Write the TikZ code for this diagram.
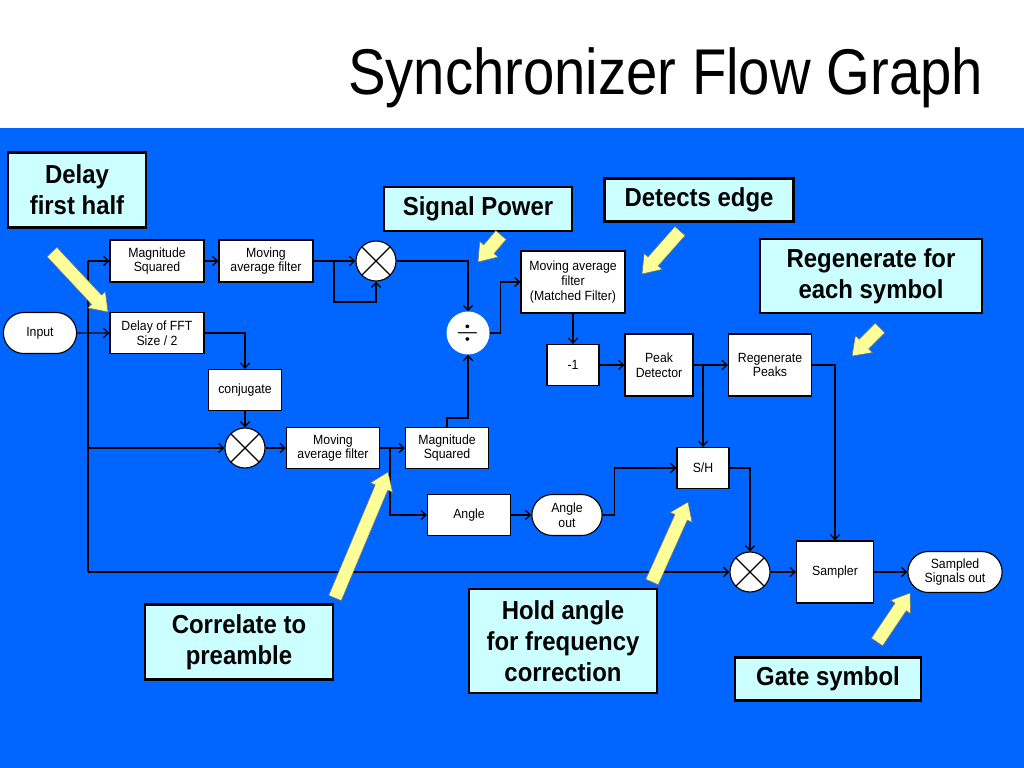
\documentclass[tikz,border=0pt]{standalone}
\usepackage{fontspec}
\setmainfont[FakeStretch=0.92]{Liberation Sans}
\newfontfamily\titlefont[FakeStretch=0.87]{Liberation Sans}
\usetikzlibrary{shapes.misc,arrows.meta,calc}
\definecolor{slideblue}{HTML}{0066FF}
\definecolor{notefill}{HTML}{CCFFFF}
\definecolor{hintfill}{HTML}{FFFF99}
\tikzset{
  block/.style={rectangle, draw, fill=white, line width=0.8pt, inner sep=1pt, align=center,
    font=\fontsize{9.5}{10.6}\selectfont},
  term/.style={rounded rectangle, draw, fill=white, line width=0.8pt, inner sep=1pt, align=center,
    font=\fontsize{9.5}{10.6}\selectfont, minimum height=1.025cm},
  mult/.style={circle, draw, fill=white, line width=0.8pt, minimum size=1cm,
    path picture={\draw[line width=0.8pt]
      (path picture bounding box.north west) -- (path picture bounding box.south east)
      (path picture bounding box.north east) -- (path picture bounding box.south west);}},
  note/.style={rectangle, draw, fill=notefill, line width=1.6pt, inner sep=1pt, align=center,
    font=\bfseries\fontsize{18.5}{22}\selectfont},
  hint/.style={fill=hintfill, draw=black!55, line width=0.4pt, line join=miter},
  flow/.style={->, line width=0.9pt, >={Straight Barb[length=3.6pt,width=6.6pt]}},
}
% yellow pointer from tail #1 to tip #2
\newcommand{\pointer}[2]{%
  \coordinate (pb) at ($(#2)!0.42cm!(#1)$);
  \draw[hint] ($(#1)!0.17cm!90:(#2)$) -- ($(pb)!0.17cm!90:(#2)$) -- ($(pb)!0.3cm!90:(#2)$)
    -- (#2) -- ($(pb)!0.3cm!-90:(#2)$) -- ($(pb)!0.17cm!-90:(#2)$) -- ($(#1)!0.17cm!-90:(#2)$) -- cycle;}
\begin{document}
\begin{tikzpicture}[x=0.025cm, y=-0.025cm]
    \useasboundingbox (0,0) rectangle (1024,768);
    \fill[white] (0,0) rectangle (1024,128);
    \fill[slideblue] (0,128) rectangle (1024,768);
    \node[anchor=base east, font=\titlefont\fontsize{46}{50}\selectfont] (title) at (988,95) {Synchronizer Flow Graph};

    % blocks
    \node[term, minimum width=1.9cm] (input) at (40,333) {Input};
    \node[block, minimum width=2.35cm, minimum height=1.05cm] (magtop) at (157,261) {Magnitude\\Squared};
    \node[block, minimum width=2.35cm, minimum height=1.05cm] (maftop) at (266,261) {Moving\\average filter};
    \node[mult] (multop) at (376,261) {};
    \node[block, minimum width=2.35cm, minimum height=1.025cm] (delay) at (157,333) {Delay of FFT\\Size / 2};
    \node[block, minimum width=1.825cm, minimum height=1.025cm] (conj) at (245,390) {conjugate};
    \node[mult] (mulmid) at (245,448) {};
    \node[block, minimum width=2.325cm, minimum height=1.025cm] (mafmid) at (333,448) {Moving\\average filter};
    \node[block, minimum width=2.075cm, minimum height=1.025cm] (magmid) at (447,448) {Magnitude\\Squared};
    \node[circle, fill=white, minimum size=1cm, font=\fontsize{22}{22}\selectfont] (divide) at (468,333) {$\div$};
    \node[block, minimum width=2.6cm, minimum height=1.55cm] (matched) at (573,282) {Moving average\\filter\\(Matched Filter)};
    \node[block, minimum width=1.3cm, minimum height=1.025cm] (neg) at (573,365) {-1};
    \node[block, minimum width=1.7cm, minimum height=1.55cm] (peak) at (659,365) {Peak\\Detector};
    \node[block, minimum width=2.075cm, minimum height=1.55cm] (regen) at (770,365) {Regenerate\\Peaks};
    \node[block, minimum width=1.3cm, minimum height=1.025cm] (sh) at (703,468) {S/H};
    \node[block, minimum width=2.075cm, minimum height=1.025cm] (angle) at (469,515) {Angle};
    \node[term, minimum width=1.825cm] (angout) at (567,515) {Angle\\out};
    \node[mult] (mulbot) at (750,572) {};
    \node[block, minimum width=1.925cm, minimum height=1.55cm] (sampler) at (835,572) {Sampler};
    \node[term, minimum width=2.425cm] (out) at (955,572) {Sampled\\Signals out};

    % connectors
    \coordinate (bustop) at (88,261);
    \coordinate (busbot) at (88,572);
    \coordinate (loop) at (334,302);
    \coordinate (tap) at (390,448);
    \draw[flow] (input) -- (delay);
    \draw[line width=0.9pt] (bustop) -- (busbot);
    \draw[flow] (bustop) -- (magtop);
    \draw[flow] (mulmid -| bustop) -- (mulmid);
    \draw[flow] (busbot) -- (mulbot);
    \draw[flow] (magtop) -- (maftop);
    \draw[flow] (maftop) -- (multop);
    \draw[flow] (maftop.east -| loop) -- (loop) -| (multop);
    \draw[flow] (multop) -| (divide);
    \draw[flow] (delay) -| (conj);
    \draw[flow] (conj) -- (mulmid);
    \draw[flow] (mulmid) -- (mafmid);
    \draw[flow] (mafmid) -- (magmid);
    \draw[flow] (tap) |- (angle);
    \draw[flow] (magmid.north) -- ++(0,-9) -| (divide);
    \draw[flow] (divide.east) -- ++(11,0) |- (matched);
    \draw[flow] (matched) -- (neg);
    \draw[flow] (neg) -- (peak);
    \draw[flow] (peak) -- (regen);
    \draw[flow] (peak.east -| sh) -- (sh);
    \draw[flow] (regen) -| (sampler);
    \draw[flow] (angle) -- (angout);
    \draw[flow] (angout.east) -- ++(12,0) |- (sh);
    \draw[flow] (sh) -| (mulbot);
    \draw[flow] (mulbot) -- (sampler);
    \draw[flow] (sampler) -- (out);

    % callouts
    \node[note, minimum width=3.45cm, minimum height=1.875cm] (delaynote) at (77,190) {Delay\\first half};
    \node[note, minimum width=4.7cm, minimum height=1.1cm] (powernote) at (478,209) {Signal Power};
    \node[note, minimum width=4.725cm, minimum height=1.075cm] (edgenote) at (699,200) {Detects edge};
    \node[note, minimum width=5.55cm, minimum height=1.85cm] (regennote) at (871,276) {Regenerate for\\each symbol};
    \node[note, minimum width=4.7cm, minimum height=1.875cm] (corrnote) at (239,642) {Correlate to\\preamble};
    \node[note, minimum width=4.7cm, minimum height=2.6cm] (holdnote) at (563,641) {Hold angle\\for frequency\\correction};
    \node[note, minimum width=4.65cm, minimum height=1.075cm] (gatenote) at (828,679) {Gate symbol};

    % pointers
    \coordinate (delaytail) at (52,252);   \coordinate (delaytip) at (108,312);
    \coordinate (powertail) at (501,235);  \coordinate (powertip) at (478,262);
    \coordinate (edgetail) at (680,231);   \coordinate (edgetip) at (642,274);
    \coordinate (regentail) at (880,328);  \coordinate (regentip) at (852,356);
    \coordinate (corrtail) at (335,598);   \coordinate (corrtip) at (388,472);
    \coordinate (holdtail) at (652,582);   \coordinate (holdtip) at (688,502);
    \coordinate (gatetail) at (877,642);   \coordinate (gatetip) at (910,593);
    \pointer{delaytail}{delaytip}
    \pointer{powertail}{powertip}
    \pointer{edgetail}{edgetip}
    \pointer{regentail}{regentip}
    \pointer{corrtail}{corrtip}
    \pointer{holdtail}{holdtip}
    \pointer{gatetail}{gatetip}
\end{tikzpicture}
\end{document}
